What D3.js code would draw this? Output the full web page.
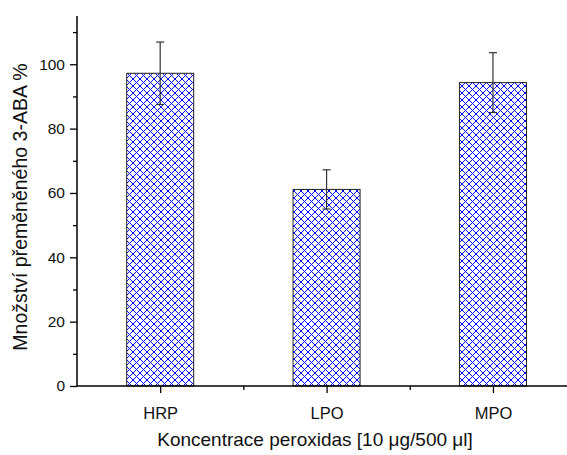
<!DOCTYPE html>
<html>
<head>
<meta charset="utf-8">
<script src="https://cdn.jsdelivr.net/npm/d3@7"></script>
<style>
  body { margin: 0; background: #fff; }
  svg text { font-family: "Liberation Sans", Arial, sans-serif; fill: #111; }
</style>
</head>
<body>
<svg width="567" height="455"></svg>
<script>
const categories = ["HRP", "LPO", "MPO"];
const values = [97.2, 61.1, 94.3];
const errors = [9.7, 6.1, 9.3];
const yMajorTicks = [0, 20, 40, 60, 80, 100];
const yMinorTicks = [10, 30, 50, 70, 90, 110];

const svg = d3.select("svg"),
  margin = { top: 16, right: 0, bottom: 69, left: 77 },
  width = 567 - margin.left - margin.right,
  height = 455 - margin.top - margin.bottom;

// crosshatch fill
const pat = svg.append("defs").append("pattern")
  .attr("id", "hatch")
  .attr("patternUnits", "userSpaceOnUse")
  .attr("width", 7).attr("height", 7);
pat.append("path")
  .attr("d", "M0,0L7,7M7,0L0,7M-1,6L1,8M6,-1L8,1M-1,1L1,-1M6,8L8,6")
  .attr("stroke", "#0000ff").attr("stroke-width", 1.1).attr("fill", "none")
  .attr("shape-rendering", "crispEdges");

const g = svg.append("g").attr("transform", `translate(${margin.left},${margin.top})`);

const x = d3.scaleLinear().domain([0.5, 3.445]).range([0, width]);
const y = d3.scaleLinear().domain([0, 115]).range([height, 0]);
const barW = 67;

// bars
g.selectAll("rect.bar")
  .data(values)
  .enter().append("rect")
  .attr("class", "bar")
  .attr("x", (d, i) => x(i + 1) - barW / 2)
  .attr("y", (d) => y(d))
  .attr("width", barW)
  .attr("height", (d) => y(0) - y(d))
  .attr("fill", "url(#hatch)")
  .attr("stroke", "#222")
  .attr("stroke-width", 1);

// error bars
const eb = g.selectAll("g.err").data(values).enter().append("g")
  .attr("stroke", "#333").attr("stroke-width", 1.2);
eb.append("line")
  .attr("x1", (d, i) => x(i + 1)).attr("x2", (d, i) => x(i + 1))
  .attr("y1", (d, i) => y(d + errors[i])).attr("y2", (d, i) => y(d - errors[i]));
eb.append("line")
  .attr("x1", (d, i) => x(i + 1) - 4).attr("x2", (d, i) => x(i + 1) + 4)
  .attr("y1", (d, i) => y(d + errors[i])).attr("y2", (d, i) => y(d + errors[i]));
eb.append("line")
  .attr("x1", (d, i) => x(i + 1) - 4).attr("x2", (d, i) => x(i + 1) + 4)
  .attr("y1", (d, i) => y(d - errors[i])).attr("y2", (d, i) => y(d - errors[i]));

// y axis
const gy = g.append("g")
  .call(d3.axisLeft(y).tickValues(yMajorTicks).tickSize(7).tickPadding(5).tickFormat(d3.format("d")));
g.append("g")
  .call(d3.axisLeft(y).tickValues(yMinorTicks).tickSize(4).tickFormat(""))
  .select(".domain").remove();

// x axis
const gx = g.append("g").attr("transform", `translate(0,${height})`)
  .call(d3.axisBottom(x).tickValues([1, 2, 3]).tickSize(7).tickPadding(14)
    .tickFormat((d) => categories[d - 1]));
g.append("g").attr("transform", `translate(0,${height})`)
  .call(d3.axisBottom(x).tickValues([1.5, 2.5]).tickSize(4).tickFormat(""))
  .select(".domain").remove();

g.selectAll(".domain").attr("stroke", "#000").attr("stroke-width", 1.5);
g.selectAll(".tick line").attr("stroke", "#000").attr("stroke-width", 1.3);
gy.attr("font-size", 15.5);
gx.attr("font-size", 16.5);
g.selectAll(".tick text").attr("fill", "#111");
gy.select(".domain").attr("d", `M0,0V${height}`);
gx.select(".domain").attr("d", `M0,0H${width}`);

// titles
svg.append("text")
  .attr("x", 315).attr("y", 446)
  .attr("text-anchor", "middle")
  .style("font-size", "19px")
  .text("Koncentrace peroxidas [10 μg/500 μl]");

svg.append("text")
  .attr("transform", "translate(27,207) rotate(-90)")
  .attr("text-anchor", "middle")
  .style("font-size", "19.5px")
  .text("Množství přeměněného 3-ABA %");
</script>
</body>
</html>
